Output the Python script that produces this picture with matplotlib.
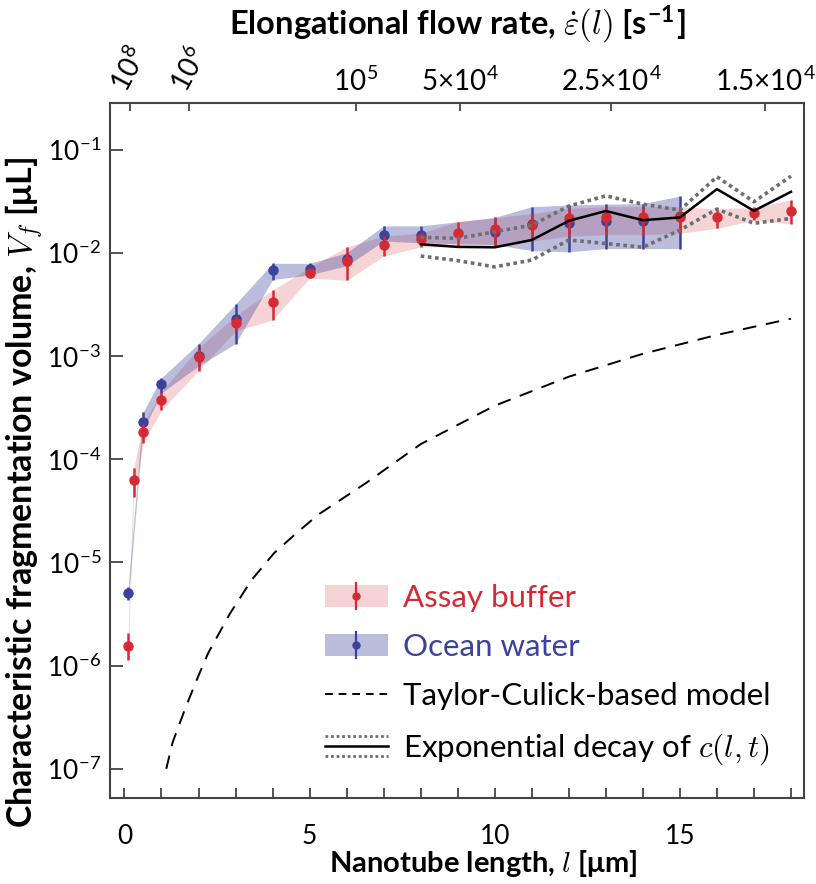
import numpy as np
import matplotlib
matplotlib.use("Agg")
import matplotlib.pyplot as plt
from matplotlib.lines import Line2D
from matplotlib.patches import Rectangle
from matplotlib.legend_handler import HandlerBase

plt.rcParams['font.family'] = ['Lato', 'DejaVu Sans']
plt.rcParams['mathtext.fontset'] = 'cm'

# ---- data ----
# Assay buffer (red)
l_red = [0.1, 0.25, 0.5, 1, 2, 3, 4, 5, 6, 7, 8, 9, 10, 11, 12, 13, 14, 15, 16, 17, 18]
v_red = [1.56e-6, 6.3e-5, 1.82e-4, 3.74e-4, 9.8e-4, 2.07e-3, 3.3e-3, 6.4e-3, 8.3e-3, 1.19e-2,
         1.35e-2, 1.56e-2, 1.69e-2, 1.85e-2, 2.18e-2, 2.2e-2, 2.2e-2, 2.2e-2, 2.23e-2, 2.44e-2, 2.55e-2]
lo_red = [1.13e-6, 4.3e-5, 1.42e-4, 2.99e-4, 7.2e-4, 1.75e-3, 2.23e-3, 5.7e-3, 5.4e-3, 9.3e-3,
          1.14e-2, 1.14e-2, 1.14e-2, 1.3e-2, 1.45e-2, 1.5e-2, 1.5e-2, 1.55e-2, 1.72e-2, 2.07e-2, 1.9e-2]
hi_red = [2.05e-6, 8.2e-5, 2.2e-4, 4.5e-4, 1.2e-3, 2.45e-3, 4.35e-3, 7.2e-3, 1.14e-2, 1.45e-2,
          1.55e-2, 2.0e-2, 2.18e-2, 2.4e-2, 2.7e-2, 2.8e-2, 2.8e-2, 2.8e-2, 2.65e-2, 2.75e-2, 3.25e-2]

# Ocean water (blue)
l_blue = [0.1, 0.5, 1, 2, 3, 4, 5, 6, 7, 8, 10, 11, 12, 13, 14, 15]
v_blue = [5.0e-6, 2.27e-4, 5.3e-4, 1.0e-3, 2.26e-3, 6.8e-3, 6.9e-3, 8.7e-3, 1.49e-2, 1.48e-2,
          1.6e-2, 1.9e-2, 1.93e-2, 2.03e-2, 2.03e-2, 2.27e-2]
lo_blue = [4.3e-6, 1.9e-4, 4.4e-4, 8.0e-4, 1.32e-3, 5.5e-3, 6.1e-3, 7.5e-3, 1.3e-2, 1.25e-2,
           1.2e-2, 1.05e-2, 1.02e-2, 1.1e-2, 1.1e-2, 1.1e-2]
hi_blue = [5.8e-6, 2.84e-4, 6.15e-4, 1.32e-3, 3.18e-3, 7.9e-3, 7.9e-3, 1.0e-2, 1.82e-2, 1.82e-2,
           2.2e-2, 2.8e-2, 2.9e-2, 2.96e-2, 3.0e-2, 3.54e-2]

# Exponential decay of c(l,t)
l_exp = [8, 9, 10, 11, 12, 13, 14, 15, 16, 17, 18]
v_exp = [1.21e-2, 1.14e-2, 1.13e-2, 1.33e-2, 2.04e-2, 2.54e-2, 2.07e-2, 2.2e-2, 4.14e-2, 2.55e-2, 3.9e-2]
v_exp_hi = [1.41e-2, 1.38e-2, 1.6e-2, 1.85e-2, 2.84e-2, 3.56e-2, 2.96e-2, 2.59e-2, 5.45e-2, 3.12e-2, 5.53e-2]
v_exp_lo = [9.3e-3, 8.4e-3, 7.3e-3, 8.5e-3, 1.33e-2, 1.23e-2, 1.13e-2, 1.66e-2, 2.65e-2, 1.93e-2, 2.15e-2]

# Taylor-Culick-based model (dashed)
l_tc = [1.13, 1.3, 1.66, 2.0, 2.26, 2.85, 3.44, 4.04, 4.63, 5.23, 5.82, 6.53, 8, 10, 12, 14, 16, 18]
v_tc = [1.0e-7, 1.8e-7, 4.0e-7, 8.0e-7, 1.32e-6, 3.2e-6, 6.8e-6, 1.23e-5, 1.9e-5, 2.9e-5, 4.0e-5,
        5.9e-5, 1.4e-4, 3.3e-4, 6.3e-4, 1.05e-3, 1.6e-3, 2.3e-3]

# top axis: elongational flow rate
rate_labels = ['10$^{\\mathregular{8}}$', '10$^{\\mathregular{6}}$', '10$^{\\mathregular{5}}$',
               '5×10$^{\\mathregular{4}}$', '2.5×10$^{\\mathregular{4}}$', '1.5×10$^{\\mathregular{4}}$']
rate_pos = [0.14, 1.75, 6.25, 9.07, 13.15, 17.3]

red = '#d52a33'
blue = '#3b429b'
gray = '#6e6e6e'

fig = plt.figure(figsize=(8.16, 8.84), dpi=100)
ax = fig.add_axes([0.1348, 0.0976, 0.8509, 0.7855])

ax.fill_between(l_red, lo_red, hi_red, color=red, alpha=0.2, lw=0, zorder=1)
ax.fill_between(l_blue, lo_blue, hi_blue, color=blue, alpha=0.35, lw=0, zorder=1)

v_blue_a = np.array(v_blue)
ax.errorbar(l_blue, v_blue, yerr=[v_blue_a - lo_blue, np.array(hi_blue) - v_blue_a],
            fmt='o', color=blue, ms=6.5, elinewidth=1.8, capsize=0, zorder=3)
v_red_a = np.array(v_red)
ax.errorbar(l_red, v_red, yerr=[v_red_a - lo_red, np.array(hi_red) - v_red_a],
            fmt='o', color=red, ms=6.5, elinewidth=1.8, capsize=0, zorder=4)

ax.plot(l_exp, v_exp_hi, ls=(0, (1, 1)), color=gray, lw=2.6, zorder=5)
ax.plot(l_exp, v_exp_lo, ls=(0, (1, 1)), color=gray, lw=2.6, zorder=5)
ax.plot(l_exp, v_exp, color='black', lw=1.8, zorder=6)
ax.plot(l_tc, v_tc, color='black', lw=1.4, ls=(0, (7, 5)), zorder=5)

ax.set_yscale('log')
ax.set_xlim(-0.39, 18.36)
ax.set_ylim(10**-7.28, 10**-0.552)

ax.set_xticks(range(0, 19))
ax.set_xticklabels([str(i) if i % 5 == 0 else '' for i in range(0, 19)])
ax.set_yticks([1e-7, 1e-6, 1e-5, 1e-4, 1e-3, 1e-2, 1e-1])
ax.set_yticklabels(['10$^{\\mathregular{%d}}$' % e for e in range(-7, 0)])
ax.yaxis.set_minor_locator(matplotlib.ticker.NullLocator())
ax.tick_params(axis='both', direction='in', labelsize=19, color='#444444', width=1.3)
ax.tick_params(axis='x', length=7, pad=19)
ax.tick_params(axis='y', length=9, pad=6)
for s in ax.spines.values():
    s.set_color('#444444')
    s.set_linewidth(1.5)

ax.set_xlabel('Nanotube length, $l$ [μm]', fontsize=21, fontweight='bold')
ax.xaxis.set_label_coords(0.537, -0.073)
ax.set_ylabel('Characteristic fragmentation volume, $V_f$ [μL]', fontsize=24.5,
              fontweight='bold')
ax.yaxis.set_label_coords(-0.093, 0.44)

ax2 = ax.twiny()
ax2.set_xlim(ax.get_xlim())
ax2.set_xticks(rate_pos)
ax2.set_xticklabels(rate_labels)
ax2.tick_params(axis='x', direction='in', length=6, labelsize=20, color='#444444', width=1.3, pad=5)
for t in ax2.get_xticklabels()[:2]:
    t.set_rotation(62)
ax2.set_xlabel('Elongational flow rate, $\\dot{\\varepsilon}(l)$ [s$^{\\mathregular{-1}}$]',
               fontsize=23.5, fontweight='bold', labelpad=6)
for s in ax2.spines.values():
    s.set_visible(False)


class BandHandler(HandlerBase):
    def __init__(self, color, alpha):
        super().__init__()
        self.color = color
        self.alpha = alpha

    def create_artists(self, legend, orig_handle, xdescent, ydescent, width, height, fontsize, trans):
        x0, y0 = -xdescent, -ydescent
        rect = Rectangle((x0, y0), width, height, facecolor=self.color, alpha=self.alpha, lw=0,
                         transform=trans)
        xc = x0 + width / 2
        bar = Line2D([xc, xc], [y0 - 0.1 * height, y0 + 1.1 * height], color=self.color, lw=1.6,
                     transform=trans)
        dot = Line2D([xc], [y0 + height / 2], marker='o', ms=5, color=self.color, transform=trans)
        return [rect, bar, dot]


class ExpHandler(HandlerBase):
    def create_artists(self, legend, orig_handle, xdescent, ydescent, width, height, fontsize, trans):
        arts = []
        for f, ls, c, lw in [(0.95, (0, (1, 1)), gray, 2.0), (0.5, '-', 'black', 1.8),
                             (0.05, (0, (1, 1)), gray, 2.0)]:
            y = f * height - ydescent
            ln = Line2D([-xdescent, width - xdescent], [y, y], ls=ls, color=c, lw=lw)
            ln.set_transform(trans)
            arts.append(ln)
        return arts


red_key, blue_key, exp_key = object(), object(), object()
handles = [red_key, blue_key,
           Line2D([], [], color='black', lw=1.4, ls=(0, (4, 3))),
           exp_key]
labels = ['Assay buffer', 'Ocean water', 'Taylor-Culick-based model',
          'Exponential decay of $c(l,t)$']
leg = ax.legend(handles, labels, loc='lower left', bbox_to_anchor=(0.31, 0.044), frameon=False,
                fontsize=22.5, handlelength=2.0, handleheight=0.7, handletextpad=0.48,
                labelspacing=0.68, borderpad=0, borderaxespad=0,
                handler_map={red_key: BandHandler(red, 0.2), blue_key: BandHandler(blue, 0.35),
                             exp_key: ExpHandler()})
for t, c in zip(leg.get_texts(), [red, blue, 'black', 'black']):
    t.set_color(c)

fig.savefig('out.png', dpi=100)
